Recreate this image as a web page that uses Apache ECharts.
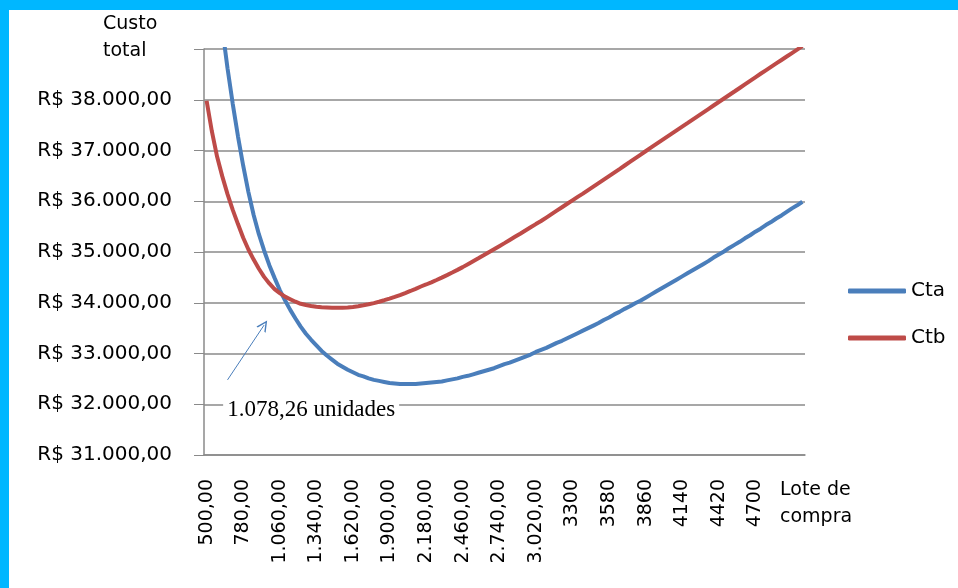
<!DOCTYPE html>
<html>
<head>
<meta charset="utf-8">
<script src="https://cdn.jsdelivr.net/npm/echarts@6/dist/echarts.min.js"></script>
<style>
  html, body { margin: 0; padding: 0; width: 958px; height: 588px; overflow: hidden; background: #00b7ff; }
  #paper { position: absolute; left: 9px; top: 10px; width: 949px; height: 578px; background: #fff; }
  #chart { position: absolute; left: 0; top: 0; width: 958px; height: 588px; }
</style>
</head>
<body>
<div id="paper"></div>
<div id="chart"></div>
<script>
// lote de compra (categorias)
var lots = [500, 540, 580, 620, 660, 700, 740, 780, 820, 860,
  900, 940, 980, 1020, 1060, 1100, 1140, 1180, 1220, 1260,
  1300, 1340, 1380, 1420, 1460, 1500, 1540, 1580, 1620, 1660,
  1700, 1740, 1780, 1820, 1860, 1900, 1940, 1980, 2020, 2060,
  2100, 2140, 2180, 2220, 2260, 2300, 2340, 2380, 2420, 2460,
  2500, 2540, 2580, 2620, 2660, 2700, 2740, 2780, 2820, 2860,
  2900, 2940, 2980, 3020, 3060, 3100, 3140, 3180, 3220, 3260,
  3300, 3340, 3380, 3420, 3460, 3500, 3540, 3580, 3620, 3660,
  3700, 3740, 3780, 3820, 3860, 3900, 3940, 3980, 4020, 4060,
  4100, 4140, 4180, 4220, 4260, 4300, 4340, 4380, 4420, 4460,
  4500, 4540, 4580, 4620, 4660, 4700, 4740, 4780, 4820, 4860,
  4900, 4940, 4980, 5020, 5060];

// rotulos do eixo x (um a cada 7 categorias)
var tickLabels = ['500,00', '780,00', '1.060,00', '1.340,00', '1.620,00', '1.900,00',
  '2.180,00', '2.460,00', '2.740,00', '3.020,00', '3300', '3580', '3860', '4140', '4420', '4700'];

var yTicks = [31000, 32000, 33000, 34000, 35000, 36000, 37000, 38000];

var cta = [42600, 41370, 40320, 39410, 38620, 37920, 37280, 36700, 36180, 35730,
  35350, 35030, 34740, 34490, 34250, 34050, 33860, 33690, 33530, 33390,
  33270, 33160, 33050, 32960, 32880, 32800, 32740, 32680, 32630, 32580,
  32550, 32510, 32480, 32460, 32440, 32420, 32410, 32400, 32400, 32400,
  32400, 32410, 32420, 32430, 32440, 32450, 32470, 32490, 32510, 32540,
  32560, 32590, 32620, 32650, 32680, 32710, 32750, 32790, 32820, 32860,
  32900, 32940, 32980, 33030, 33070, 33110, 33160, 33210, 33250, 33300,
  33350, 33400, 33450, 33500, 33550, 33600, 33660, 33710, 33770, 33820,
  33880, 33930, 33990, 34040, 34100, 34160, 34220, 34280, 34340, 34400,
  34460, 34520, 34580, 34640, 34700, 34760, 34820, 34890, 34950, 35010,
  35080, 35140, 35200, 35270, 35330, 35400, 35460, 35530, 35590, 35660,
  35720, 35790, 35860, 35920, 35990];

var ctb = [37980, 37380, 36880, 36490, 36140, 35830, 35550, 35280, 35050, 34850,
  34670, 34510, 34380, 34270, 34190, 34120, 34070, 34020, 33980, 33955,
  33935, 33920, 33910, 33905, 33900, 33900, 33902, 33908, 33918, 33932,
  33950, 33970, 33993, 34020, 34050, 34082, 34115, 34150, 34190, 34232,
  34275, 34320, 34360, 34402, 34448, 34496, 34545, 34595, 34648, 34702,
  34760, 34818, 34876, 34935, 34995, 35055, 35115, 35175, 35237, 35299,
  35361, 35424, 35487, 35550, 35610, 35678, 35746, 35814, 35882, 35950,
  36018, 36086, 36150, 36220, 36289, 36358, 36427, 36496, 36565, 36634,
  36704, 36774, 36845, 36915, 36985, 37055, 37125, 37195, 37264, 37333,
  37402, 37471, 37540, 37610, 37679, 37748, 37817, 37886, 37955, 38024,
  38093, 38162, 38232, 38302, 38372, 38442, 38512, 38580, 38648, 38716,
  38784, 38852, 38920, 38988, 39056];

var FONT = 'DejaVu Sans';
var GRAY = '#8a8a8a';

function brl(v) {
  // R$ 38.000,00
  var s = String(v).replace(/\B(?=(\d{3})+(?!\d))/g, '.');
  return 'R$ ' + s + ',00';
}

var myChart = echarts.init(document.getElementById('chart'));

var option = {
  animation: false,
  grid: { left: 204, right: 153, top: 49, bottom: 133 },
  legend: {
    data: ['Cta', 'Ctb'],
    orient: 'vertical',
    left: 843,
    top: 276,
    icon: 'roundRect',
    itemWidth: 58,
    itemHeight: 5,
    itemGap: 27,
    textStyle: { fontFamily: FONT, fontSize: 20, color: '#000' }
  },
  graphic: [
    {
      type: 'text', left: 103, top: 11,
      style: { text: 'Custo\ntotal', font: '19px "DejaVu Sans"', fill: '#000', lineHeight: 27 }
    },
    {
      type: 'text', left: 780, top: 477,
      style: { text: 'Lote de\ncompra', font: '19px "DejaVu Sans"', fill: '#000', lineHeight: 27 }
    }
  ],
  xAxis: {
    type: 'category',
    data: lots,
    axisLine: { lineStyle: { color: GRAY, width: 1.5 } },
    axisTick: { interval: 0, length: 6, lineStyle: { color: GRAY } },
    axisLabel: {
      interval: 0,
      rotate: 90,
      margin: 24,
      fontFamily: FONT,
      fontSize: 19,
      color: '#000',
      formatter: function (v, i) {
        return (i % 7 === 0 && tickLabels[i / 7]) ? tickLabels[i / 7] : '';
      }
    },
    splitLine: { show: false }
  },
  yAxis: {
    type: 'value',
    min: 31000,
    max: 39000,
    interval: 1000,
    axisLine: { show: true, lineStyle: { color: GRAY, width: 1.5 } },
    axisTick: { show: true, length: 10, lineStyle: { color: GRAY } },
    axisLabel: {
      margin: 32,
      fontFamily: FONT,
      fontSize: 20,
      color: '#000',
      formatter: function (v) { return yTicks.indexOf(v) >= 0 ? brl(v) : ''; }
    },
    splitLine: { lineStyle: { color: GRAY, width: 1.5 } }
  },
  series: [
    {
      name: 'Cta',
      type: 'line',
      data: cta,
      symbol: 'none',
      clip: true,
      color: '#4a7ebb',
      lineStyle: { width: 4, color: '#4a7ebb' },
      markLine: {
        silent: true,
        // ponta de seta aberta
        symbol: ['none', 'path://M0,10 L5,0 L10,10 L8.6,10 L5,2.8 L1.4,10 Z'],
        symbolSize: 11,
        label: { show: false },
        lineStyle: { color: '#4a7ebb', width: 1, type: 'solid' },
        data: [[
          { coord: [lots.indexOf(660), 32480] },
          { coord: [lots.indexOf(940), 33560] }
        ]]
      },
      markPoint: {
        silent: true,
        symbol: 'circle',
        symbolSize: 1,
        itemStyle: { color: 'rgba(0,0,0,0)' },
        label: {
          show: true,
          position: 'inside',
          formatter: '1.078,26 unidades',
          fontFamily: 'Liberation Serif',
          fontSize: 23,
          color: '#000',
          backgroundColor: '#fff',
          padding: [0, 4]
        },
        data: [{ coord: [lots.indexOf(1300), 31890] }]
      }
    },
    {
      name: 'Ctb',
      type: 'line',
      data: ctb,
      symbol: 'none',
      clip: true,
      color: '#be4b48',
      lineStyle: { width: 4, color: '#be4b48' }
    }
  ]
};

myChart.setOption(option);
</script>
</body>
</html>
